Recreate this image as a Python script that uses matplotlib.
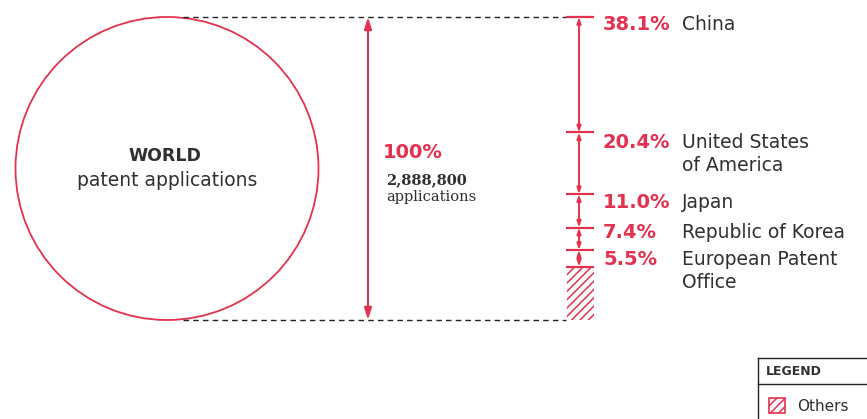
import matplotlib
matplotlib.use("Agg")
import matplotlib.pyplot as plt
from matplotlib.patches import Ellipse, Rectangle
from matplotlib.transforms import offset_copy

# ---- data ----
regions = ["China", "United States\nof America", "Japan", "Republic of Korea", "European Patent\nOffice"]
shares = [38.1, 20.4, 11.0, 7.4, 5.5]
others_label = "Others"
world_total_label = "2,888,800"
world_pct_label = "100%"

RED = "#e3324f"
DARK = "#303030"

plt.rcParams["hatch.linewidth"] = 1.1

W, H = 867, 419
fig = plt.figure(figsize=(W / 100, H / 100), dpi=100)

# data axes: x in pixels, y in percent of world (0 at top, 100 at bottom)
top_px, bot_px = 17, 320
scale = (bot_px - top_px) / 100.0
ax = fig.add_axes([0, 0, 1, 1])
ax.set_xlim(0, W)
ax.set_ylim((H - top_px) / scale, -top_px / scale)
ax.axis("off")

# decoration axes in pixels
deco = fig.add_axes([0, 0, 1, 1])
deco.set_xlim(0, W)
deco.set_ylim(H, 0)
deco.axis("off")
deco.patch.set_alpha(0)

total = 100.0
# World circle
ax.add_patch(Ellipse((167, total / 2), 303, total, fill=False, edgecolor=RED, lw=1.3))
ax.text(165, total / 2 - 4.0, "WORLD", ha="center", va="center", fontsize=12.5,
        fontweight="bold", color=DARK, family="DejaVu Sans")
ax.text(167, total / 2 + 4.0, "patent applications", ha="center", va="center",
        fontsize=13.5, color=DARK, family="DejaVu Sans")

# dashed guide lines
for yv in (0, total):
    ax.plot([183, 566], [yv, yv], color="#222222", lw=1.0, ls=(0, (4, 3)))

# big double arrow
ax.annotate("", xy=(368, 0), xytext=(368, total),
            arrowprops=dict(arrowstyle="<|-|>,head_length=0.7,head_width=0.22",
                            color=RED, lw=1.5, shrinkA=0, shrinkB=0))
ax.text(383, 44.8, world_pct_label, ha="left", va="center", fontsize=14,
        fontweight="bold", color=RED, family="DejaVu Sans")
ax.text(386, 53.8, world_total_label, ha="left", va="center", fontsize=10.5,
        fontweight="bold", color=DARK, family="DejaVu Serif")
ax.text(386, 59.5, "applications", ha="left", va="center", fontsize=10.5,
        color=DARK, family="DejaVu Serif")

# right scale
xs = 579
bounds = [0]
for s in shares:
    bounds.append(bounds[-1] + s)

for b in bounds:
    ax.plot([566, 594], [b, b], color=RED, lw=1.6, solid_capstyle="butt")
for a, b in zip(bounds[:-1], bounds[1:]):
    ax.annotate("", xy=(xs, a), xytext=(xs, b),
                arrowprops=dict(arrowstyle="<|-|>,head_length=0.35,head_width=0.12",
                                color=RED, lw=1.4, shrinkA=0, shrinkB=0))

# others hatched bar
ax.add_patch(Rectangle((567, bounds[-1]), 27, total - bounds[-1], facecolor="none",
                       edgecolor=RED, lw=0, hatch="////"))

# labels
offs = [8, 10, 8, 5, 9]
for b, s, name, o in zip(bounds[:-1], shares, regions, offs):
    tr = offset_copy(ax.transData, fig=fig, x=0, y=-o, units="dots")
    ax.text(603, b, f"{s:.1f}%", transform=tr, ha="left", va="center",
            fontsize=14, fontweight="bold", color=RED, family="DejaVu Sans")
    for i, line in enumerate(name.split("\n")):
        tr2 = offset_copy(ax.transData, fig=fig, x=0, y=-o - 23 * i, units="dots")
        ax.text(682, b, line, transform=tr2, ha="left", va="center",
                fontsize=13.5, color=DARK, family="DejaVu Sans")

# legend box
deco.plot([758, 870], [358, 358], color="#222222", lw=1.0, clip_on=False)
deco.plot([758, 758], [358, 425], color="#222222", lw=1.0, clip_on=False)
deco.plot([758, 870], [384, 384], color="#222222", lw=1.0, clip_on=False)
deco.text(766, 371.5, "LEGEND", ha="left", va="center", fontsize=9, fontweight="bold",
          color=DARK, family="DejaVu Sans")
deco.add_patch(Rectangle((769, 398), 16, 15, facecolor="none", edgecolor=RED,
                         lw=1.2, hatch="////"))
deco.text(797, 406, others_label, ha="left", va="center", fontsize=11, color=DARK,
          family="DejaVu Sans")

fig.savefig("out.png", dpi=100, facecolor="white")
